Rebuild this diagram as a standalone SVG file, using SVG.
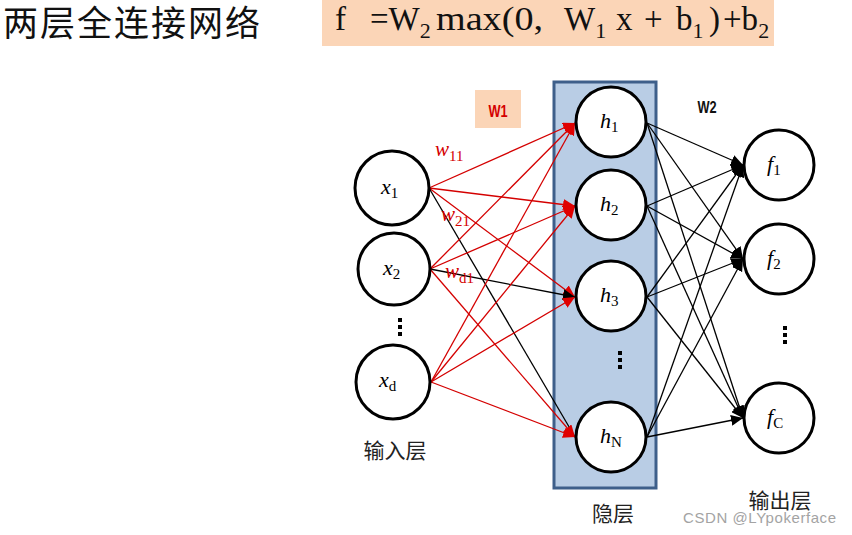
<svg xmlns="http://www.w3.org/2000/svg" width="852" height="535" viewBox="0 0 852 535">
<style>
.node{fill:#fff;stroke:#000;stroke-width:3}
.m{font-family:"Liberation Serif",serif;font-style:italic;font-size:22px;fill:#000}
.s{font-family:"Liberation Serif",serif;font-style:normal;font-size:15px}
.cn{font-family:"Noto Sans CJK SC",sans-serif;font-size:21px;fill:#222}
.r{stroke:#D40000;stroke-width:1.3;fill:none;marker-end:url(#ar)}
.k{stroke:#000;stroke-width:1.3;fill:none;marker-end:url(#ak)}
.kk{stroke:#000;stroke-width:1.3;fill:none}
.wl{font-family:"Liberation Serif",serif;font-style:italic;font-size:21px;fill:#D40000}
.dots{fill:#000}
.fm{font-family:"Liberation Serif",serif;font-size:33px;fill:#111}
.fs{font-family:"Liberation Serif",serif;font-size:22px;fill:#111}
</style>
<defs>
<marker id="ar" markerUnits="userSpaceOnUse" markerWidth="13" markerHeight="11" refX="12" refY="5.5" orient="auto"><path d="M0,0 L12,5.5 L0,11 Z" fill="#E00000"/></marker>
<marker id="ak" markerUnits="userSpaceOnUse" markerWidth="13" markerHeight="11" refX="12" refY="5.5" orient="auto"><path d="M0,0 L12,5.5 L0,11 Z" fill="#000"/></marker>
</defs>
<rect width="852" height="535" fill="#fff"/>
<g id="title">
<text x="3" y="36" font-family="'Noto Sans CJK SC',sans-serif" font-size="35" letter-spacing="2" fill="#111">两层全连接网络</text>
</g>
<g id="formula">
<rect x="322" y="0" width="452" height="46" fill="#FBD5B7"/>
<text class="fm" x="335" y="30">f</text>
<text class="fm" x="370" y="30">=W<tspan class="fs" y="38">2</tspan></text>
<text class="fm" x="436" y="30" textLength="107" lengthAdjust="spacingAndGlyphs">max(0,</text>
<text class="fm" x="564" y="30">W<tspan class="fs" y="38">1</tspan></text>
<text class="fm" x="616" y="30">x</text>
<text class="fm" x="644" y="30">+</text>
<text class="fm" x="676" y="30">b<tspan class="fs" y="38">1</tspan></text>
<text class="fm" x="709" y="30">)</text>
<text class="fm" x="723" y="30">+b<tspan class="fs" y="38">2</tspan></text>
</g>
<g id="hidden-layer">
<rect x="554" y="82" width="102" height="406" fill="#B9CDE5" stroke="#3E5F8A" stroke-width="3"/>
</g>
<g id="w1-label">
<rect x="475" y="90" width="46" height="38" fill="#FBD5B7"/>
<text x="498" y="117" text-anchor="middle" font-family="'Liberation Sans',sans-serif" font-weight="bold" font-size="16" fill="#D40000" transform="translate(498 0) scale(0.8 1) translate(-498 0)">W1</text>
</g>
<g id="w2-label">
<text x="707" y="113" text-anchor="middle" font-family="'Liberation Sans',sans-serif" font-weight="bold" font-size="16" fill="#111" transform="translate(707 0) scale(0.8 1) translate(-707 0)">W2</text>
</g>
<g id="connectors">
<line class="r" x1="429" y1="188" x2="575" y2="123"/>
<line class="r" x1="429" y1="188" x2="575" y2="206"/>
<line class="r" x1="429" y1="188" x2="575" y2="297"/>
<line class="kk" x1="429" y1="188" x2="575" y2="437"/>
<line class="r" x1="430" y1="269" x2="575" y2="123"/>
<line class="r" x1="430" y1="269" x2="575" y2="206"/>
<line class="k" x1="430" y1="269" x2="575" y2="297"/>
<line class="r" x1="430" y1="269" x2="575" y2="437"/>
<line class="r" x1="431" y1="382" x2="575" y2="123"/>
<line class="r" x1="431" y1="382" x2="575" y2="206"/>
<line class="r" x1="431" y1="382" x2="575" y2="297"/>
<line class="r" x1="431" y1="382" x2="575" y2="437"/>
<line class="k" x1="647" y1="123" x2="743" y2="165"/>
<line class="k" x1="647" y1="123" x2="743" y2="259"/>
<line class="k" x1="647" y1="123" x2="743" y2="418"/>
<line class="k" x1="647" y1="206" x2="743" y2="165"/>
<line class="k" x1="647" y1="206" x2="743" y2="259"/>
<line class="k" x1="647" y1="206" x2="743" y2="418"/>
<line class="k" x1="647" y1="297" x2="743" y2="165"/>
<line class="k" x1="647" y1="297" x2="743" y2="259"/>
<line class="k" x1="647" y1="297" x2="743" y2="418"/>
<line class="k" x1="647" y1="437" x2="743" y2="165"/>
<line class="k" x1="647" y1="437" x2="743" y2="259"/>
<line class="k" x1="647" y1="437" x2="743" y2="418"/>
</g>
<g id="edge-labels">
<text class="wl" x="435" y="156">w<tspan class="s" dy="5">11</tspan></text>
<text class="wl" x="441" y="221">w<tspan class="s" dy="5">21</tspan></text>
<text class="wl" x="445" y="278">w<tspan class="s" font-style="italic" dy="5">d</tspan><tspan class="s">1</tspan></text>
</g>
<g id="x1"><circle class="node" cx="392" cy="188" r="37"/><text class="m" x="381" y="194">x<tspan class="s" dy="4">1</tspan></text></g>
<g id="x2"><circle class="node" cx="394" cy="269" r="36"/><text class="m" x="383" y="275">x<tspan class="s" dy="4">2</tspan></text></g>
<g id="input-dots"><rect x="398" y="318" width="4" height="4" class="dots"/><rect x="398" y="325" width="4" height="4" class="dots"/><rect x="398" y="332" width="4" height="4" class="dots"/></g>
<g id="xd"><circle class="node" cx="393" cy="382" r="37"/><text class="m" x="379" y="387">x<tspan class="s" font-style="italic" dy="4">d</tspan></text></g>
<g id="h1"><circle class="node" cx="611" cy="122" r="35"/><text class="m" x="600" y="128">h<tspan class="s" dy="4">1</tspan></text></g>
<g id="h2"><circle class="node" cx="611" cy="205" r="35"/><text class="m" x="600" y="211">h<tspan class="s" dy="4">2</tspan></text></g>
<g id="h3"><circle class="node" cx="611" cy="296" r="35"/><text class="m" x="600" y="302">h<tspan class="s" dy="4">3</tspan></text></g>
<g id="hidden-dots"><rect x="618" y="351" width="4" height="4" class="dots"/><rect x="618" y="358" width="4" height="4" class="dots"/><rect x="618" y="365" width="4" height="4" class="dots"/></g>
<g id="hN"><circle class="node" cx="611" cy="437" r="35"/><text class="m" x="600" y="443">h<tspan class="s" font-style="italic" dy="4">N</tspan></text></g>
<g id="f1"><circle class="node" cx="779" cy="165" r="35"/><text class="m" x="767" y="171">f<tspan class="s" dy="4">1</tspan></text></g>
<g id="f2"><circle class="node" cx="779" cy="259" r="35"/><text class="m" x="767" y="265">f<tspan class="s" dy="4">2</tspan></text></g>
<g id="output-dots"><rect x="783" y="326" width="4" height="4" class="dots"/><rect x="783" y="333" width="4" height="4" class="dots"/><rect x="783" y="340" width="4" height="4" class="dots"/></g>
<g id="fC"><circle class="node" cx="779" cy="418" r="35"/><text class="m" x="767" y="424">f<tspan class="s" font-style="italic" dy="4">C</tspan></text></g>
<g id="layer-labels">
<text class="cn" x="395" y="458" text-anchor="middle">输入层</text>
<text class="cn" x="613" y="521" text-anchor="middle">隐层</text>
<text class="cn" x="780" y="508" text-anchor="middle">输出层</text>
</g>
<g id="watermark"><text x="683" y="523" font-family="'Liberation Sans',sans-serif" font-size="15" textLength="153" fill="#9a9a9a" opacity="0.9">CSDN @LYpokerface</text></g>
</svg>
